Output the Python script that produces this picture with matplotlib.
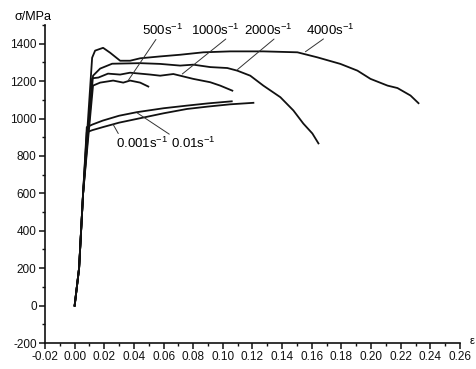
import matplotlib
matplotlib.use("Agg")
import matplotlib.pyplot as plt
from matplotlib.ticker import MultipleLocator, FormatStrFormatter

plt.rcParams['font.family'] = ['Liberation Sans', 'DejaVu Sans']
plt.rcParams['mathtext.fontset'] = 'custom'
plt.rcParams['mathtext.rm'] = 'Liberation Sans'
plt.rcParams['mathtext.it'] = 'Liberation Sans'
plt.rcParams['axes.unicode_minus'] = False

# === Data (strain, stress in MPa) ===
# shared elastic rise
eps_el = [0.0, 0.003, 0.0057]
sig_el = [0, 200, 600]

eps_4000 = [0.0118, 0.0138, 0.0192, 0.0239, 0.0307, 0.0374, 0.0442, 0.0577, 0.0712,
            0.0868, 0.105, 0.1273, 0.1503, 0.1638, 0.1793, 0.1908, 0.1996, 0.2111,
            0.2178, 0.2266, 0.232]
sig_4000 = [1325, 1363, 1378, 1352, 1309, 1309, 1322, 1332, 1341,
            1354, 1359, 1359, 1354, 1327, 1292, 1256, 1212, 1176,
            1163, 1123, 1082]

eps_2000 = [0.0124, 0.0172, 0.0253, 0.0442, 0.0577, 0.0712, 0.080, 0.0915, 0.103,
            0.1097, 0.1185, 0.1273, 0.1388, 0.1476, 0.1543, 0.1604, 0.1645]
sig_2000 = [1229, 1267, 1293, 1296, 1292, 1283, 1288, 1275, 1270,
            1256, 1229, 1176, 1114, 1043, 973, 920, 867]

eps_1000 = [0.0118, 0.016, 0.0225, 0.0307, 0.0374, 0.051, 0.0577, 0.0666, 0.080,
            0.0915, 0.0982, 0.1064]
sig_1000 = [1215, 1219, 1240, 1235, 1245, 1235, 1229, 1238, 1212,
            1194, 1176, 1149]

eps_500 = [0.0124, 0.0172, 0.026, 0.0328, 0.0374, 0.0442, 0.0497]
sig_500 = [1176, 1192, 1203, 1192, 1203, 1192, 1171]

eps_001 = [0.0082, 0.012, 0.019, 0.030, 0.042, 0.060, 0.0757, 0.090, 0.106]
sig_001 = [954, 968, 989, 1015, 1034, 1055, 1069, 1081, 1092]

eps_0001 = [0.0082, 0.012, 0.019, 0.030, 0.042, 0.060, 0.0757, 0.090, 0.105, 0.1206]
sig_0001 = [927, 938, 954, 978, 998, 1028, 1051, 1064, 1076, 1084]

curves = [(eps_4000, sig_4000), (eps_2000, sig_2000), (eps_1000, sig_1000),
          (eps_500, sig_500), (eps_001, sig_001), (eps_0001, sig_0001)]

# label text, label position, point on curve, relpos of leader start
labels = [
    ('500s$^{-1}$', (0.0591, 1448), (0.0361, 1203), (0.375, 0)),
    ('1000s$^{-1}$', (0.0949, 1448), (0.0726, 1238), (0.75, 0)),
    ('2000s$^{-1}$', (0.1307, 1448), (0.1099, 1262), (0.65, 0)),
    ('4000s$^{-1}$', (0.1726, 1448), (0.1557, 1357), (0.39, 0)),
    ('0.001s$^{-1}$', (0.0456, 845), (0.026, 968), (0.06, 1)),
    ('0.01s$^{-1}$', (0.0801, 845), (0.0422, 1030), (0.0, 1)),
]

# === Plotting ===
fig = plt.figure(figsize=(4.77, 3.69), dpi=100)
ax = fig.add_axes([45 / 477, 26 / 369, 415 / 477, 318 / 369])

for eps, sig in curves:
    ax.plot(eps_el + eps, sig_el + sig, color='#111111', lw=1.3,
            solid_joinstyle='round')

for text, pos, pt, rel in labels:
    ax.annotate(text, xy=pt, xytext=pos, ha='center', va='baseline', fontsize=9.5,
                arrowprops=dict(arrowstyle='-', color='#333333', lw=0.7,
                                relpos=rel, shrinkA=1.5, shrinkB=0, patchA=None))

ax.set_xlim(-0.02, 0.26)
ax.set_ylim(-200, 1500)
ax.xaxis.set_major_locator(MultipleLocator(0.02))
ax.xaxis.set_minor_locator(MultipleLocator(0.01))
ax.xaxis.set_major_formatter(FormatStrFormatter('%.2f'))
ax.yaxis.set_major_locator(MultipleLocator(200))
ax.yaxis.set_minor_locator(MultipleLocator(100))
ax.set_yticks(range(-200, 1401, 200))

for side in ['top', 'right']:
    ax.spines[side].set_visible(False)
for side in ['left', 'bottom']:
    ax.spines[side].set_linewidth(1.2)
    ax.spines[side].set_color('#111111')
ax.spines['left'].set_bounds(-200, 1500)

ax.tick_params(which='major', direction='out', length=4, width=1.1,
               labelsize=8.5, pad=2, colors='#111111')
ax.tick_params(which='minor', direction='out', length=2.5, width=1.0,
               colors='#111111')

fig.text(15 / 477, 1 - 20 / 369, 'σ/MPa', ha='left', va='baseline', fontsize=9)
fig.text(472 / 477, 1 - 341 / 369, 'ε', ha='center', va='center', fontsize=8)

fig.savefig('out.png', dpi=100)
